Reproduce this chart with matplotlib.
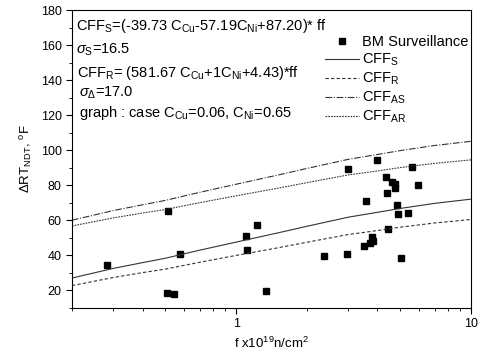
import matplotlib
matplotlib.use("Agg")
import matplotlib.pyplot as plt
from matplotlib.ticker import MultipleLocator, FixedLocator, LogLocator, NullFormatter

plt.rcParams['font.family'] = ['Liberation Sans', 'DejaVu Sans']
plt.rcParams['mathtext.fontset'] = 'custom'
plt.rcParams['mathtext.rm'] = 'Liberation Sans'
plt.rcParams['mathtext.it'] = 'Liberation Sans:italic'
plt.rcParams['mathtext.sf'] = 'Liberation Sans'

# BM surveillance data (fluence x1e19 n/cm2, delta RT_NDT in F)
fluence = [0.281, 0.512, 0.577, 0.509, 0.543, 1.10, 1.118, 1.226, 1.343,
           2.37, 3.00, 2.98, 3.97, 3.58, 3.52, 3.71, 3.80, 3.82,
           4.33, 4.41, 4.63, 4.73, 4.73, 4.42, 4.86, 4.91, 5.02,
           5.40, 5.63, 5.95]
delta_rt = [34.4, 65.3, 40.7, 18.8, 18.1, 50.9, 43.0, 57.2, 19.8,
            39.7, 89.1, 40.7, 94.2, 71.2, 45.3, 46.9, 50.5, 48.2,
            85.0, 75.8, 81.8, 80.8, 78.5, 55.1, 68.5, 63.6, 38.6,
            64.3, 90.6, 80.0]

# curves
f_line = [0.2, 0.3, 0.4, 0.5, 0.7, 1.0, 1.5, 2.0, 3.0, 4.0, 5.0, 7.0, 10.0]
cff_s = [27.1, 32.6, 35.9, 38.4, 43.0, 47.6, 52.8, 56.6, 61.8, 64.6, 66.8, 69.7, 72.1]
cff_r = [22.8, 27.4, 30.2, 32.2, 36.1, 40.0, 44.3, 47.5, 51.9, 54.2, 56.1, 58.5, 60.5]
cff_as = [60.1, 65.6, 68.9, 71.4, 76.0, 80.6, 85.8, 89.6, 94.8, 97.6, 99.8, 102.7, 105.1]
cff_ar = [56.8, 61.4, 64.2, 66.2, 70.1, 74.0, 78.3, 81.5, 85.9, 88.2, 90.1, 92.5, 94.5]

fig = plt.figure(figsize=(4.88, 3.6), dpi=100)
ax = fig.add_axes([0.1475, 0.1444, 0.8175, 0.8278])

lc = '#333333'
ax.plot(fluence, delta_rt, 's', color='black', markersize=5, label='BM Surveillance')
ax.plot(f_line, cff_s, '-', color=lc, lw=0.8, label='CFF$_{\\rm S}$')
ax.plot(f_line, cff_r, color=lc, lw=0.8, ls=(0, (3, 2)), label='CFF$_{\\rm R}$')
ax.plot(f_line, cff_as, color=lc, lw=0.8, ls=(0, (6, 1.5, 1, 1.5)), label='CFF$_{\\rm AS}$')
ax.plot(f_line, cff_ar, color=lc, lw=0.8, ls=(0, (1.5, 1)), label='CFF$_{\\rm AR}$')

ax.set_xscale('log')
ax.set_xlim(0.2, 10)
ax.set_ylim(10, 180)
ax.xaxis.set_major_locator(FixedLocator([1, 10]))
ax.set_xticklabels(['1', '10'])
ax.xaxis.set_minor_locator(LogLocator(base=10, subs=[2, 3, 4, 5, 6, 7, 8, 9]))
ax.xaxis.set_minor_formatter(NullFormatter())
ax.yaxis.set_major_locator(FixedLocator(range(20, 181, 20)))
ax.yaxis.set_minor_locator(MultipleLocator(10))
ax.tick_params(which='both', direction='out', top=False, right=False, labelsize=9)
ax.tick_params(which='major', length=4)
ax.tick_params(which='minor', length=2.5)

ax.set_xlabel('f x10$^{\\rm 19}$n/cm$^{\\rm 2}$', fontsize=9.5)
ax.set_ylabel('$\\Delta$RT$_{\\rm NDT}$, $^{\\rm o}$F', fontsize=9.5)

# equation notes
fs = 10.5
ax.text(0.01, 0.948, 'CFF$_{\\rm S}$=(-39.73 C$_{\\rm Cu}$-57.19C$_{\\rm Ni}$+87.20)* ff',
        transform=ax.transAxes, fontsize=fs, va='center')
ax.text(0.01, 0.868, '$\\sigma_{\\rm S}$=16.5', transform=ax.transAxes, fontsize=fs, va='center')
ax.text(0.013, 0.790, 'CFF$_{\\rm R}$= (581.67 C$_{\\rm Cu}$+1C$_{\\rm Ni}$+4.43)*ff',
        transform=ax.transAxes, fontsize=fs, va='center')
ax.text(0.018, 0.722, '$\\sigma_{\\Delta}$=17.0', transform=ax.transAxes, fontsize=fs, va='center')
ax.text(0.018, 0.655, 'graph : case C$_{\\rm Cu}$=0.06, C$_{\\rm Ni}$=0.65',
        transform=ax.transAxes, fontsize=fs, va='center')

ax.legend(loc='upper right', bbox_to_anchor=(1.02, 0.95), frameon=False, fontsize=10.5,
          handlelength=2.3, labelspacing=0.18, handletextpad=0.25, borderpad=0.2)

fig.savefig('out.png', dpi=100)
